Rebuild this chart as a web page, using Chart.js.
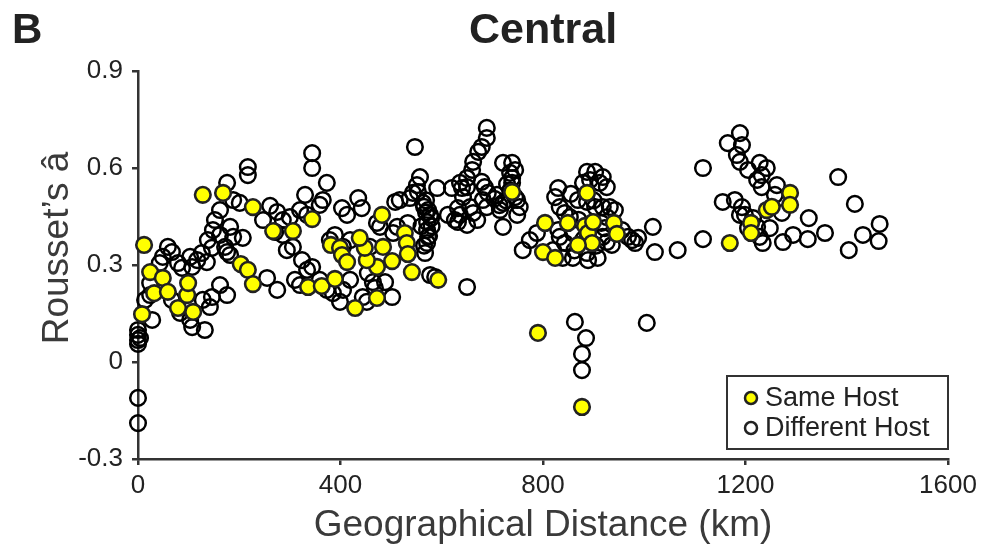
<!DOCTYPE html>
<html>
<head>
<meta charset="utf-8">
<script src="https://cdn.jsdelivr.net/npm/chart.js@4.4.0/dist/chart.umd.min.js"></script>
<style>
  html, body { margin: 0; padding: 0; background: #fff; }
</style>
</head>
<body>
<canvas id="chart" width="988" height="559"></canvas>
<script>
// Rousset's a vs geographical distance, Central region
const sameHostPoints = [
  [12, 0.362], [24, 0.278], [49, 0.260], [32, 0.213], [59, 0.217], [8, 0.148], [79, 0.167],
  [97, 0.207], [99, 0.244], [109, 0.155], [128, 0.517], [168, 0.523], [227, 0.479], [267, 0.405],
  [306, 0.405], [344, 0.442], [203, 0.303], [217, 0.285], [227, 0.241], [336, 0.232], [363, 0.235],
  [389, 0.257], [381, 0.362], [399, 0.353], [403, 0.331], [413, 0.309],
  [482, 0.455], [527, 0.399], [531, 0.368], [533, 0.334], [541, 0.278], [484, 0.356], [502, 0.312],
  [472, 0.294], [452, 0.315], [448, 0.353], [438, 0.384], [472, 0.198], [429, 0.167], [593, 0.254],
  [739, 0.526], [804, 0.430], [800, 0.340], [790, 0.090],
  [824, 0.322], [849, 0.430], [887, 0.523], [883, 0.421], [889, 0.399], [899, 0.433], [897, 0.368],
  [869, 0.362], [940, 0.430], [946, 0.396], [1169, 0.368], [1211, 0.430], [1211, 0.399],
  [1242, 0.470], [1252, 0.480], [1288, 0.523], [1288, 0.486], [877, -0.139]
];

const diffHostPoints = [
  [0, 0.099], [0, 0.084], [0, 0.068], [0, 0.056], [4, 0.074], [0, -0.111], [0, -0.189],
  [24, 0.244], [28, 0.130], [14, 0.192], [24, 0.207],
  [59, 0.356], [67, 0.340], [49, 0.325], [43, 0.306], [79, 0.306], [87, 0.291], [67, 0.192],
  [83, 0.152], [103, 0.130], [107, 0.108], [132, 0.099], [128, 0.192], [142, 0.170], [146, 0.201],
  [162, 0.238], [176, 0.207], [103, 0.325], [117, 0.315], [107, 0.294], [126, 0.337], [136, 0.309],
  [138, 0.377], [146, 0.353], [148, 0.408], [162, 0.393], [182, 0.418], [188, 0.387], [207, 0.384],
  [172, 0.356], [176, 0.340], [182, 0.331], [162, 0.470], [152, 0.439], [176, 0.554], [188, 0.501],
  [201, 0.492], [217, 0.603], [217, 0.578], [261, 0.483], [275, 0.464], [286, 0.439], [300, 0.448],
  [320, 0.470], [334, 0.455], [330, 0.517], [344, 0.646], [344, 0.600], [373, 0.554], [359, 0.486],
  [365, 0.501], [403, 0.476], [413, 0.455], [255, 0.260], [275, 0.223], [294, 0.346], [306, 0.356],
  [324, 0.315], [334, 0.285], [344, 0.294], [359, 0.254], [373, 0.223], [385, 0.213], [399, 0.186],
  [310, 0.254], [320, 0.238], [247, 0.439], [286, 0.393], [271, 0.402],
  [689, 0.724], [689, 0.693], [679, 0.665], [672, 0.650], [547, 0.665], [662, 0.619], [660, 0.594],
  [721, 0.616], [739, 0.616], [745, 0.594], [735, 0.585], [739, 0.569], [739, 0.554], [557, 0.572],
  [551, 0.547], [553, 0.526], [591, 0.538], [620, 0.538], [636, 0.554], [640, 0.538], [642, 0.510],
  [650, 0.569], [650, 0.541], [679, 0.557], [685, 0.541], [691, 0.523], [681, 0.501], [689, 0.479],
  [709, 0.517], [721, 0.492], [715, 0.470], [721, 0.418], [749, 0.501], [754, 0.479], [749, 0.455],
  [435, 0.507], [442, 0.476], [508, 0.495], [517, 0.501], [537, 0.507], [543, 0.523], [563, 0.492],
  [573, 0.470], [577, 0.455], [571, 0.433], [571, 0.408], [573, 0.387], [571, 0.368], [567, 0.337],
  [632, 0.476], [636, 0.455], [632, 0.433], [612, 0.455], [626, 0.439], [656, 0.479], [662, 0.461],
  [670, 0.439], [650, 0.424], [379, 0.377], [389, 0.393], [405, 0.356], [419, 0.377], [454, 0.275],
  [464, 0.247], [468, 0.229], [488, 0.247], [502, 0.201], [419, 0.254], [405, 0.223], [444, 0.201],
  [452, 0.186], [577, 0.269], [587, 0.263], [650, 0.232], [760, 0.346], [774, 0.377], [788, 0.399],
  [533, 0.430], [512, 0.418], [504, 0.399], [472, 0.430], [478, 0.418], [458, 0.356],
  [565, 0.480], [569, 0.462], [579, 0.445], [704, 0.505], [714, 0.485], [727, 0.500], [560, 0.420],
  [569, 0.500], [575, 0.390], [565, 0.360], [580, 0.420], [735, 0.530], [745, 0.510], [729, 0.550],
  [887, 0.588], [903, 0.588], [918, 0.572], [926, 0.541], [912, 0.554], [893, 0.563], [879, 0.554],
  [830, 0.538], [824, 0.510], [833, 0.479], [843, 0.461], [830, 0.408], [869, 0.501], [887, 0.495],
  [903, 0.479], [918, 0.479], [932, 0.479], [942, 0.470], [926, 0.448], [922, 0.414], [918, 0.387],
  [926, 0.371], [936, 0.362], [956, 0.408], [968, 0.387], [976, 0.377], [988, 0.384], [982, 0.368],
  [853, 0.448], [859, 0.399], [833, 0.387], [843, 0.368], [820, 0.346], [839, 0.322], [859, 0.322],
  [887, 0.337], [889, 0.315], [908, 0.322], [855, 0.520], [900, 0.500], [915, 0.430], [870, 0.440],
  [880, 0.380], [905, 0.360], [862, 0.345],
  [1017, 0.418], [1021, 0.340], [1066, 0.346],
  [1116, 0.600], [1116, 0.380], [1189, 0.708], [1165, 0.677], [1193, 0.671], [1183, 0.640],
  [1189, 0.619], [1205, 0.594], [1228, 0.616], [1242, 0.600], [1232, 0.578], [1223, 0.563],
  [1232, 0.541], [1155, 0.495], [1179, 0.501], [1193, 0.479], [1199, 0.455], [1215, 0.445],
  [1223, 0.418], [1228, 0.387], [1248, 0.414], [1234, 0.368], [1189, 0.455], [1205, 0.414],
  [863, 0.124], [885, 0.074], [877, 0.025], [877, -0.025], [1005, 0.121],
  [1383, 0.572], [1416, 0.489], [1465, 0.427], [1463, 0.374], [1432, 0.393], [1404, 0.346],
  [1357, 0.399], [1325, 0.445], [1323, 0.380], [1294, 0.393], [1274, 0.371], [1262, 0.547],
  [1258, 0.517], [1272, 0.461]
];

const xTicks = [0, 400, 800, 1200, 1600];
const yTicks = [-0.3, 0, 0.3, 0.6, 0.9];
const seriesNames = ["Same Host", "Different Host"];

const FONT = '"Liberation Sans", Arial, sans-serif';
const INK = "#222";

function toXY(list) {
  return list.map((p) => ({ x: p[0], y: p[1] }));
}

// Panel letter, title, y-axis title and the boxed legend
const decorPlugin = {
  id: "decor",
  afterDraw(chart) {
    const ctx = chart.ctx;
    const area = chart.chartArea;
    ctx.save();
    ctx.fillStyle = INK;
    ctx.textBaseline = "middle";
    ctx.font = "bold 42px " + FONT;
    ctx.textAlign = "left";
    ctx.fillText("B", 12, 31);
    ctx.font = "bold 43px " + FONT;
    ctx.textAlign = "center";
    ctx.fillText("Central", (area.left + area.right) / 2, 31);

    // y-axis title (sits a little above the plot centre in the original)
    ctx.save();
    ctx.translate(58, 248);
    ctx.rotate(-Math.PI / 2);
    ctx.fillStyle = "#3a3a3a";
    ctx.font = "37px " + FONT;
    ctx.fillText("Rousset\u2019s \u00e2", 0, 0);
    ctx.restore();

    // legend box in the lower right corner of the plot
    const boxW = 221, boxH = 73;
    const bx = area.right - boxW, by = 376;
    ctx.lineWidth = 2;
    ctx.strokeStyle = "#333";
    ctx.strokeRect(bx, by, boxW, boxH);

    ctx.font = "27px " + FONT;
    ctx.textAlign = "left";
    const rows = [
      { y: by + 22, fill: "#ffff00" },
      { y: by + 52, fill: null }
    ];
    rows.forEach((r, i) => {
      ctx.beginPath();
      ctx.arc(bx + 24, r.y, 6, 0, Math.PI * 2);
      if (r.fill) {
        ctx.fillStyle = r.fill;
        ctx.fill();
      }
      ctx.lineWidth = 2.5;
      ctx.strokeStyle = INK;
      ctx.stroke();
      ctx.fillStyle = INK;
      ctx.fillText(seriesNames[i], bx + 38, r.y + 1);
    });
    ctx.restore();
  }
};

new Chart(document.getElementById("chart"), {
  type: "scatter",
  data: {
    datasets: [
      {
        label: seriesNames[0],
        data: toXY(sameHostPoints),
        backgroundColor: "#ffff00",
        borderColor: INK,
        borderWidth: 2.6,
        pointRadius: 7.8,
        clip: false
      },
      {
        label: seriesNames[1],
        data: toXY(diffHostPoints),
        backgroundColor: "rgba(0,0,0,0)",
        borderColor: "#000",
        borderWidth: 2.5,
        pointRadius: 7.8,
        clip: false
      }
    ]
  },
  options: {
    responsive: false,
    devicePixelRatio: 1,
    animation: false,
    layout: { padding: { top: 71, right: 40, left: 0, bottom: 0 } },
    plugins: {
      legend: { display: false },
      tooltip: { enabled: false },
      title: { display: false }
    },
    scales: {
      x: {
        type: "linear",
        min: 0,
        max: 1600,
        afterBuildTicks(scale) {
          scale.ticks = xTicks.map((v) => ({ value: v }));
        },
        afterFit(scale) {
          scale.height = 100;
        },
        ticks: {
          color: INK,
          padding: 5,
          font: { family: FONT, size: 26 },
          callback: (v) => String(v)
        },
        grid: {
          drawOnChartArea: false,
          drawTicks: true,
          tickLength: 6,
          color: "#333",
          lineWidth: 2.5
        },
        border: { display: true, color: "#333", width: 2.5 },
        title: {
          display: true,
          text: "Geographical Distance (km)",
          color: "#3a3a3a",
          font: { family: FONT, size: 37 },
          padding: { top: 0, bottom: 11 }
        }
      },
      y: {
        type: "linear",
        min: -0.3,
        max: 0.9,
        afterBuildTicks(scale) {
          scale.ticks = yTicks.map((v) => ({ value: v }));
        },
        afterFit(scale) {
          scale.width = 138;
        },
        ticks: {
          color: INK,
          padding: 9,
          font: { family: FONT, size: 26 },
          callback: (v) => (Math.abs(v) < 1e-9 ? "0" : v.toFixed(1))
        },
        grid: {
          drawOnChartArea: false,
          drawTicks: true,
          tickLength: 6,
          color: "#333",
          lineWidth: 2.5
        },
        border: { display: true, color: "#333", width: 2.5 }
      }
    }
  },
  plugins: [decorPlugin]
});
</script>
</body>
</html>
